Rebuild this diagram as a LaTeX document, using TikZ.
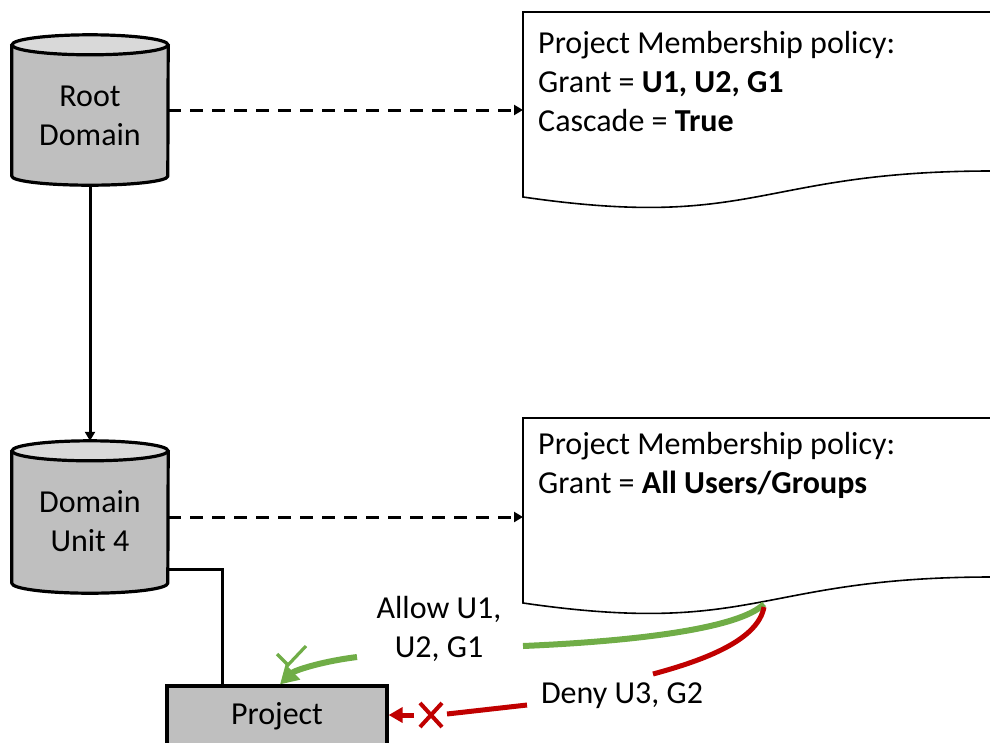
\documentclass[tikz,border=0pt]{standalone}
\usepackage{fontspec}
\setmainfont{Carlito}
\usetikzlibrary{arrows.meta,shapes.misc}
\definecolor{bodygray}{HTML}{BFBFBF}
\definecolor{topgray}{HTML}{D9D9D9}
\definecolor{okgreen}{HTML}{70AD47}
\definecolor{nored}{HTML}{C00000}
\begin{document}
\begin{tikzpicture}[x=1pt,y=1pt,
  every node/.style={font=\fontsize{32}{39}\selectfont, inner sep=0pt},
  cylarea/.style={minimum width=156pt, inner sep=0pt, draw=none},
  cylbody/.style={fill=bodygray, draw=black, line width=3.2pt, line join=round},
  cyltop/.style={fill=topgray, draw=black, line width=3.2pt},
  docbox/.style={draw=black, line width=1.6pt, fill=white},
  docarea/.style={minimum width=468pt, minimum height=185pt, inner sep=0pt, anchor=north west},
  projbox/.style={fill=bodygray, draw=black, line width=3.2pt, minimum width=220pt, minimum height=62pt},
  conn/.style={draw=black, line width=3pt},
  dashconn/.style={draw=black, line width=3pt, dash pattern=on 13pt off 9pt, -{Triangle[length=9pt,width=10pt]}},
  okline/.style={draw=okgreen, line width=6pt},
  noline/.style={draw=nored, line width=5pt},
  xmark/.style={cross out, draw=nored, line width=4pt, minimum width=18pt, minimum height=20pt},
  poltext/.style={align=left, anchor=base west},
  lbl/.style={align=center}
]
\useasboundingbox (0,0) rectangle (990,-742);

% policy documents
\draw[docbox] (523,-12) -- (992,-12) -- (992,-171) .. controls (757,-171) and (757,-231) .. (523,-197) -- cycle;
\node[docarea] (pol1) at (523,-12) {};
\draw[docbox] (523,-418) -- (992,-418) -- (992,-577) .. controls (757,-577) and (757,-637) .. (523,-603) -- cycle;
\node[docarea] (pol2) at (523,-418) {};

\node[poltext] (pol1t) at (538,-131) {Project Membership policy:\\Grant = \textbf{U1, U2, G1}\\Cascade = \textbf{True}};
\node[poltext] (pol2t) at (538,-493) {Project Membership policy:\\Grant = \textbf{All Users/Groups}};

% cylinders
\node[cylarea, minimum height=150pt] (root) at (90,-110) {};
\node[cylarea, minimum height=152pt] (du4) at (90,-517) {};
\foreach \n/\b in {root/9, du4/10}{
  \filldraw[cylbody] ([yshift=-10pt]\n.north west) -- ([yshift=\b pt]\n.south west)
     arc[start angle=180, end angle=360, x radius=78pt, y radius=\b pt]
     -- ([yshift=-10pt]\n.north east) -- cycle;
  \filldraw[cyltop] ([yshift=-10pt]\n.north) ellipse[x radius=78pt, y radius=10pt];
}
\node[lbl] (roott) at (90,-116) {Root\\Domain};
\node[lbl] (du4t) at (90,-521) {Domain\\Unit 4};

% project
\node[projbox] (project) at (277,-717) {};
\node[anchor=base] (projt) at (277,-724) {Project};

% connectors
\draw[conn, -{Triangle[length=9pt,width=10pt]}] (root.south) -- (du4.north);
\draw[dashconn] (root.east) -- (pol1.west |- root.east);
\draw[dashconn] (du4.east) -- (pol2.west |- du4.east);
\draw[conn] ([yshift=-52pt]du4.east) -| ([xshift=-55pt]project.north);

% labels
\node[lbl] (allow) at (439,-629) {Allow U1,\\U2, G1};
\node[anchor=base] (deny) at (622,-703) {Deny U3, G2};

% green (allowed)
\coordinate (src) at (764,-604);
\coordinate (g1) at (523,-646);
\coordinate (g2) at (357,-657);
\draw[okline] (src) .. controls (740,-628) and (640,-641) .. (g1);
\draw[okline, -{Triangle[length=18pt,width=20pt]}] (g2) .. controls (318,-662) and (294,-671) .. ([xshift=3pt]project.north);
\draw[draw=okgreen, line width=3.2pt] (277,-654) -- (288,-665) -- (306,-646);

% red (denied)
\coordinate (r1) at (653,-674);
\coordinate (r2) at (527,-705);
\coordinate (r3) at (447,-714);
\draw[noline] ([yshift=-3pt]src) .. controls (758,-640) and (705,-660) .. (r1);
\draw[noline] (r2) -- (r3);
\node[xmark] (xm) at (431,-715) {};
\draw[noline, -{Triangle[length=14pt,width=15pt]}] ([xshift=-6pt]xm.west) -- (project.east |- xm.west);
\end{tikzpicture}
\end{document}
